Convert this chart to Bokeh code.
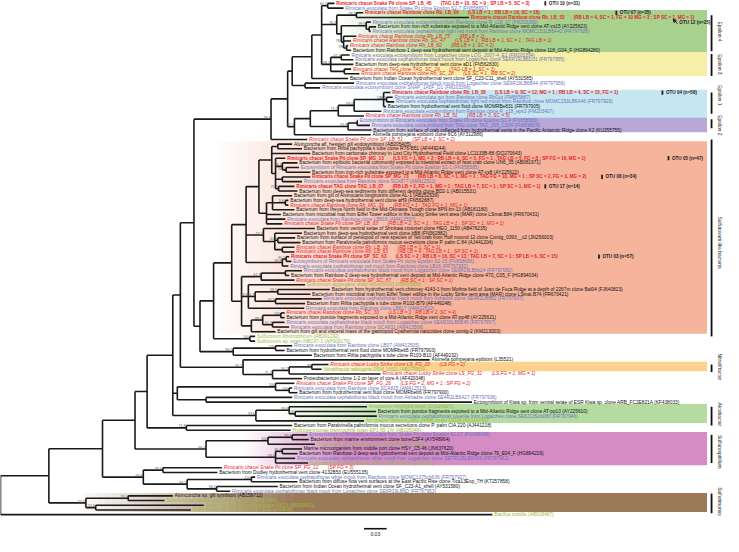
from bokeh.plotting import figure
from bokeh.models import Range1d, ColumnDataSource, Arrow, NormalHead
from bokeh.embed import file_html
from bokeh.resources import INLINE
from bokeh.core.properties import value
import math

# ---------------- data ----------------
leaf_labels = [
 "Rimicaris chacei Snake Pit clone SP_LB_45\u2003\u2003(TAG LB = 10, SC = 9 ; SP LB = 5, SC = 3)",
 "Rimicaris exoculata from Snake Pit clone Epsilon S2-7 (FN658697)",
 "Rimicaris chacei Rainbow clone Rb_LB_09\u2003\u2003(LS LB = 1 ; RB LB = 16, SC = 18)",
 "Rimicaris chacei  Rainbow clone Rb_LB_53\u2003\u2003(RB LB = 4, SC = 1, FG = 10 MG = 3 ; SP SC = 1, MG = 1)",
 "Rimicaris exoculata ectosymbiont from Rainbow clone R_c18_07 (FM203380)",
 "Bacterium from iron-rich substrate exposed to a Mid-Atlantic Ridge vent clone AT-cs15 (AY225623)",
 "Rimicaris exoculata cephalothorax light red moult from Rainbow clone MOMC153LB6A42 (FR797928)",
 "Rimicaris chacei Rainbow clone Rb_LB_75\u2003\u2003(RB LB = 2)",
 "Rimicaris chacei Rainbow clone Rb_SC_47\u2003\u2003(LS LB = 1 ; RB LB = 1, SC = 1 ; TAG LB = 1)",
 "Rimicaris chacei Rainbow clone Rb_LB_60\u2003\u2003(RB LB = 1; SC = 2)",
 "Bacterium from Rainbow-1 deep-sea hydrothermal vent deposit at Mid-Atlantic Ridge clone 118_G04_F (HG894280)",
 "Rimicaris exoculata ectosymbiont from Logatchev clone LOG_2007-4_E1 (FM203394)",
 "Rimicaris exoculata cephalothorax black moult from Logatchev clone SE6R19LB6D31 (FR797955)",
 "Bacterium from deep-sea hydrothermal vent clone aD1 (FN562830)",
 "Rimicaris chacei TAG clone TAG_SC_29\u2003\u2003(TAG LB = 1, SC = 3)",
 "Rimicaris chacei Rainbow clone Rb_SC_28\u2003\u2003(LS SC = 1 ; RB SC = 2)",
 "Bacterium from Indian Ocean hydrothermal vent clone SF_C23-C11_shell (AY531585)",
 "Rimicaris exoculata cephalothorax black moult from Logatchev clone SE6R19LB6B44 (FR797956)",
 "Rimicaris exoculata ectosymbiont clone SNAP_1A5F_D1 (FM203396)",
 "Rimicaris chacei Rainbow clone Rb_LB_38\u2003\u2003(LS LB = 9, SC = 12, MG = 1 ; RB LB = 4, SC = 15, FG = 1)",
 "Rimicaris exoculata gut from Rainbow clone RbGut (FM865887)",
 "Rimicaris exoculata cephalothorax light red moult from Rainbow clone MOMC153LB6A46 (FR797929)",
 "Bacterium from hydrothermal vent fluid clone MOMRBe831 (FR797905)",
 "Rimicaris exoculata ectosymbiont from Rainbow clone R_c18_eps3 (FM203407)",
 "Rimicaris chacei Rainbow clone Rb_LB_51\u2003\u2003(RB LB = 3, SC = 5)",
 "Ectosymbiont of Rimicaris exoculata from Snake Pit clone Epsilon S1-4 (FN658583)",
 "Rimicaris exoculata ectosymbiont from TAG clone TAG_265_C004 (FN658829)",
 "Bacterium from surface of crab collected from hydrothermal vents in the Pacific Antarctic Ridge clone K2 (KU255755)",
 "Alvinella pompejana epibiont clone 6C6 (AY312986)",
 "Rimicaris chacei Snake Pit clone SP_LB_51\u2003\u2003(SP LB = 1, SC = 2)",
 "Alvinconcha aff. hessleri gill endosymbiont (AB205405)",
 "Bacterium from Riftia pachyptila s tube clone R76-B51 (AF449244)",
 "Bacterium from carbonate chimney in Lost City Hydrothermal Field clone LC1133B-88 (DQ270643)",
 "Rimicaris chacei Snake Pit clone SP_MG_13\u2003\u2003(LS FG = 1, MG = 2 ; RB LB = 9, SC = 5, FG = 1 ; TAG LB = 5, FG = 8 ; SP FG = 16, MG = 1)",
 "Bacterium from epibiotic bacterial community exposed to intestinal extract of host crab clone UN6_35 (AB081971)",
 "Ectosymbiont of Rimicaris exoculata from Snake Pit clone Epsilon S1-1 (FN658585)",
 "Bacterium from iron-rich substrate exposed to a Mid-Atlantic Ridge vent clone AT-cs8 (AY225622)",
 "Rimicaris chacei Snake Pit clone SP_MG_73\u2003\u2003(RB LB = 8, SC = 1, MG = 1 ; TAG FG = 10, MG = 1 ; SP SC = 2, FG = 3, MG = 2)",
 "Rimicaris exoculata from Rainbow clone SCA877 (AM412511)",
 "Rimicaris chacei TAG clone TAG_LB_07\u2003\u2003(RB LB = 2, FG = 1, MG = 1 ; TAG LB = 7, SC = 1 ; SP SC = 1, MG = 1)",
 "Bacterium from deep-sea sediments from different depths clone BD2-1 (AB015531)",
 "Bacterium from gill of Alvinocaris longirostris clone AL-1 (AB252539)",
 "Bacterium from deep-sea hydrothermal vent clone aH9 (FN562887)",
 "Rimicaris chacei Rainbow clone Rb_MG_29\u2003\u2003(RB FG = 1 ; TAG FG = 1, MG = 1)",
 "Bacterium from Iheya North field in the Mid-Okinawa Trough clone 8PN-bn-13 (AB181180)",
 "Bacterium from microbial mat from Eiffel Tower edifice in the Lucky Strike vent area (MAR) clone LSmat.B84 (FR670431)",
 "Rimicaris exoculata from Rainbow clone LB816 (AM412507)",
 "Rimicaris chacei Snake Pit clone SP_LB_63\u2003\u2003(RB LB = 2, SC = 1 ; TAG LB = 1 ; SP SC = 1, MG = 1)",
 "Bacterium from ventral setae of Shinkaia crosnieri clone HEO_1150 (AB476235)",
 "Bacterium from deep-sea hydrothermal vent clone bB8 (FN562882)",
 "Bacterium from surface of pereopod of new species of Yeti crab from Hoff mound 12 clone Contig_0393__c2 (JN256003)",
 "Bacterium from Paralvinella palmiformis mucus secretions clone P. palm C 84 (AJ441204)",
 "Rimicaris chacei Rainbow clone Rb_LB_16\u2003\u2003(RB LB = 1, SC = 1)",
 "Rimicaris chacei Rainbow clone Rb_LB_63\u2003\u2003(RB LB = 4 ; TAG LB = 1 ; SP SC = 1)",
 "Rimicaris chacei Snake Pit clone SP_SC_63\u2003\u2003(LS SC = 2 ; RB LB = 16, SC = 13 ; TAG LB = 7, SC = 1 ; SP LB = 6, SC = 15)",
 "Ectosymbiont of Rimicaris exoculata from Snake Pit clone Epsilon S2-15 (FN658696)",
 "Rimicaris exoculata cephalothorax red moult from Rainbow clone LB16 (FR797932)",
 "Rimicaris exoculata cephalothorax black moult from Logatchev clone SE6R19LB6b24 (FR797952)",
 "Bacterium from Rainbow-2 deep-sea hydrothermal vent deposit at Mid-Atlantic Ridge clone 470_C05_F (HG894034)",
 "Rimicaris chacei Snake Pit clone SP_SC_87\u2003\u2003(RB SC = 1 ; SP SC = 1)",
 "Sulfurovum aggregans strain Monchim33 (AB889588)",
 "Bacterium from hydrothermal vent chimney 4143-1 from Mothra field of Juan de Fuca Ridge at a depth of 2267m clone Bal04 (FJ640823)",
 "Bacterium from microbial mat from Eiffel Tower edifice in the Lucky Strike vent area (MAR) clone LSmat.B74 (FR670421)",
 "Rimicaris exoculata cephalothorax black moult from Ashadze clone SE4R2LB6B2 (FR797937)",
 "Bacterium from Riftia pachyptila s tube clone R103-B79 (AF449248)",
 "Rimicaris exoculata from Rainbow clone LB817 (AM412510)",
 "Rimicaris chacei Rainbow clone Rb_SC_30\u2003\u2003(LS LB = 1 ; RB LB = 2, SC = 4)",
 "Bacterium from pumice fragments exposed to a Mid-Atlantic Ridge vent clone AT-pp48 (AY225621)",
 "Rimicaris exoculata cephalothorax black moult from Logatchev clone SE6R19LB6B45 (FR797957)",
 "Rimicaris exoculata from Rainbow clone SCA831 (AM412508)",
 "Bacterium from gill and visceral mass of the gastropod Cyathermia naticoides clone contig-2 (KM213003)",
 "Sulfurovum lithotrophicum (AB091292)",
 "Sulfurovum sp. strain NBC37-1 (AP009179)",
 "Rimicaris exoculata from Rainbow clone LB07 (AM412505)",
 "Bacterium from hydrothermal vent fluid clone MOMRbeb5 (FR797903)",
 "Bacterium from Riftia pachyptila s tube clone R103-B10 (AF449232)",
 "Alvinella pompejana epibiont (L35521)",
 "Rimicaris chacei Lucky Strike clone LS_FG_20\u2003\u2003(LS FG = 2)",
 "Nitratifractor salsuginis DSM 16511 (AB175500)",
 "Rimicaris chacei Lucky Strike clone LS_FG_32\u2003\u2003(LS FG = 1, MG = 1)",
 "Proteobacterium clone 1-2 on layer of core A (AF420348)",
 "Rimicaris chacei Snake Pit clone SP_FG_26\u2003\u2003(LS FG = 2, MG = 1 ; SP FG = 2)",
 "Rimicaris exoculata from Rainbow clone SCA815 (AM412513)",
 "Bacterium from hydrothermal vent fluid clone MOMRbeb6 (FR797900)",
 "Rimicaris exoculata cephalothorax black moult from Ashadze clone SE4R2LB6A27 (FR797936)",
 "Ectosymbiont of Kiwa sp. from ventral setae of ESR Kiwa sp. clone ARB_FC2E821A (KF438033)",
 "Arcobacter nitrofigilis strain CI (L14627)",
 "Bacterium from pumice fragments exposed to a Mid-Atlantic Ridge vent clone AT-pp13 (AY225610)",
 "Rimicaris exoculata cephalothorax juvenile from Logatchev clone SE6J13Scb080 (FR797946)",
 "Arcobacter thereius LMG 24486 strain 16339 (AY314753)",
 "Bacterium from Paralvinella palmiformis mucus secretions clone P. palm CIA 220 (AJ441218)",
 "Hydrogenimonas thermophila strain EP1-55-1% (AB105048)",
 "Ectosymbiont of Rimicaris exoculata from Snake Pit clone Epsilon S1-27 (FN658698)",
 "Bacterium from marine environment clone boneC3F4 (AY548964)",
 "Sulfurospirillum arcachonense strain F1F6 (Y11561)",
 "Marine microorganism from middle port clone HSY_C5-46 (JN637620)",
 "Bacterium from Rainbow-3 deep-sea hydrothermal vent deposit at Mid-Atlantic Ridge clone 79_E04_F (HG894219)",
 "Rimicaris exoculata cephalothorax white moult from Logatchev clone SE7R125LB6A53 (FR797962)",
 "Sulfurospirillum multivorans DSM 12446 strain K (X82931)",
 "Rimicaris chacei Snake Pit clone SP_FG_12\u2003\u2003(SP FG = 3)",
 "Bacterium from Dudley hydrothermal vent clone 4132B53 (EU555135)",
 "Rimicaris exoculata cephalothorax white moult from Rainbow clone MOMC1375cb636 (FR797927)",
 "Bacterium from diffuse flow vent surfaces at the East Pacific Rise clone Tica13Exp_7H (KT257858)",
 "Bacterium from Indian Ocean hydrothermal vent clone SF_C23-A1_shell (AY531580)",
 "Rimicaris exoculata cephalothorax black moult from Logatchev clone SE6R19LB6D (FR797953)",
 "Alvinconcha sp. gill symbiont (AB159712)",
 "Sulfurimonas paralvinellae strain GO25 (AB252048)",
 "Sulfurimonas autotrophica strain OK10 (AB088431)",
 "Sulfurimonas denitrificans DSM 1251 (L40808)",
 "Bacillus subtilis (AB018487)",
]

leaf_kind = (
 "rb b rb rb b k b r r r k b b k r r k b b "
 "rb b b k b r b b k k r "
 "k k k rb k b k rb b rb k k k r k k b r k k k k r r rb b "
 "b b k r g k k b k b r k b b k g g b k k k "
 "r g r k r b k b k g k b g k g "
 "b k g k k b g r k b k k b k g g g g"
).split()

# tip distance from root (substitutions / site)
leaf_depth = [
 0.442, 0.454, 0.480, 0.620, 0.490, 0.497, 0.490, 0.471, 0.464, 0.460,
 0.464, 0.462, 0.467, 0.467, 0.464, 0.475, 0.460, 0.468, 0.423, 0.516,
 0.519, 0.521, 0.510, 0.504, 0.481, 0.473, 0.489, 0.491, 0.490, 0.406,
 0.386, 0.399, 0.410, 0.377, 0.393, 0.395, 0.410, 0.410, 0.399, 0.389,
 0.393, 0.386, 0.381, 0.381, 0.389, 0.371, 0.377, 0.373, 0.416, 0.399,
 0.390, 0.397, 0.389, 0.389, 0.382, 0.385, 0.381, 0.399, 0.382, 0.389,
 0.403, 0.436, 0.410, 0.425, 0.403, 0.402, 0.376, 0.376, 0.376, 0.382,
 0.364, 0.337, 0.337, 0.386, 0.376, 0.412, 0.568, 0.434, 0.425, 0.503,
 0.399, 0.389, 0.386, 0.393, 0.386, 0.624, 0.485, 0.497, 0.498, 0.481,
 0.386, 0.384, 0.406, 0.408, 0.416, 0.399, 0.393, 0.390, 0.407, 0.293,
 0.287, 0.337, 0.393, 0.367, 0.304, 0.228, 0.217, 0.269, 0.252, 0.651,
]

def N(depth, bs, *kids):
    return ("node", depth, bs, kids)

EU = N(0.386, "",
       N(0.412, "",
         N(0.425, "",
           N(0.433, "60.2", 0, 1),
           N(0.445, "76.3",
             N(0.471, "78.2", 2, 3),
             N(0.451, "",
               N(0.484, "99.9", 4, N(0.488, "", 5, 6)),
               N(0.454, "78.2", 7, 8, N(0.458, "99.8", 9, 10)))),
           N(0.437, "98.2",
             N(0.451, "67.4", 11, 12),
             13,
             N(0.455, "", 14, 15))),
         16),
       N(0.403, "", 17, 18))

E12 = N(0.389, "92.0",
        N(0.410, "",
          N(0.447, "72.2",
            N(0.468, "93.6",
              N(0.507, "100", 19, N(0.511, "100", 20, 21), 22),
              23),
            24),
          N(0.460, "91.8", N(0.472, "", 25, 26), 27)),
        28)

N277 = N(0.358, "78.3", N(0.380, "", EU, E12), 29)

X266 = N(0.342, "",
         N(0.359, "",
           N(0.367, "", 30, 31),
           32,
           N(0.364, "",
             33,
             N(0.373, "58.1", 34, N(0.378, "50.0", 35, 36)),
             N(0.373, "", 37, 38),
             N(0.368, "71.5", 39, 40))),
         N(0.352, "",
           N(0.360, "", 41, N(0.377, "100", 42, 43), 44),
           45, 46, 47))

X253 = N(0.325, "",
         X266,
         N(0.348, "52.3",
           48,
           N(0.363, "",
             49,
             N(0.367, "41.8", 50, 51),
             N(0.373, "", 52, 53))),
         N(0.373, "99.9", N(0.378, "95.5", 54, 55), 56))

X248 = N(0.319, "",
         N(0.345, "61.3", N(0.377, "", 57, 58), 59),
         N(0.328, "63.6",
           60,
           N(0.337, "64.1",
             N(0.367, "58.5", 61, 62),
             N(0.364, "47.5", 63, 64)),
           65),
         N(0.332, "",
           N(0.347, "88.7",
             N(0.371, "100", 66, 67),
             N(0.360, "61.7", 68, 69)),
           70))

SULF = N(0.264, "",
         N(0.282, "",
           N(0.306, "", X253, X248),
           N(0.330, "100", 71, 72)),
         N(0.308, "84.7", N(0.364, "100", 73, 74), 75))

NITRA = N(0.321, "95.1",
          76,
          N(0.360, "71.2",
            N(0.382, "91.2", N(0.412, "88", 77, 78), 79),
            80))

NB = N(0.234, "",
       N(0.364, "100", 81, N(0.382, "100", 82, 83)),
       N(0.272, "", 84, 85))

ARC = N(0.338, "93.6",
        N(0.382, "63.6", 86, N(0.390, "100", 87, 88)),
        89)

SPIR = N(0.272, "96.5",
         N(0.354, "100", N(0.386, "95.8", 92, 93), 94),
         N(0.364, "58.0", N(0.373, "81.9", 95, 96), 97, 98))

tree = N(0.0, "",
         N(0.064, "",
           N(0.135, "",
             N(0.178, "",
               N(0.194, "",
                 N(0.228, "",
                   N(0.238, "",
                     N(0.256, "", N277, SULF),
                     NITRA),
                   NB,
                   ARC),
                 N(0.246, "71.8", 90, 91)),
               SPIR),
             N(0.189, "66.8",
               N(0.215, "85.6", 99, 100),
               N(0.247, "84.2",
                 N(0.332, "100", 101, 102),
                 N(0.286, "94.1", 103, 104)))),
           N(0.113, "55.5",
             N(0.169, "70.7", 105, 106),
             N(0.126, "52.6", 107, 108))),
         109)

# coloured clade boxes
box_names = ["Epsilon 4", "Epsilon 3", "Epsilon 1", "Epsilon 2", "Sulfurovum like bacteria",
             "Nitratifractor", "Arcobacter", "Sulfurospirillum", "Sulfurimonas"]
box_row0 = [2, 11, 19, 25, 30, 77, 86, 92, 105]
box_row1 = [10, 15, 24, 27, 70, 78, 89, 98, 108]
box_fade0 = [0.445, 0.445, 0.464, 0.451, 0.282, 0.412, 0.360, 0.321, 0.100]
box_fade1 = [0.594, 0.594, 0.607, 0.581, 0.555, 0.542, 0.542, 0.451, 0.386]
box_color = ["#a9d18e", "#f8efa6", "#c6e7f0", "#b8a8d8", "#f7b49c",
             "#fbd38d", "#b4dba0", "#d58cc4", "#9a7a57"]
box_right = 0.935

# right-hand brackets and clade names
brk_row0 = [2.5, 10.8, 19.0, 24.7, 29.0, 77.0, 86.0, 92.0, 104.5]
brk_row1 = [10.2, 15.5, 23.5, 26.6, 71.0, 78.6, 90.0, 98.0, 108.7]
brk_label_row = [6.0, 13.0, 19.6, 26.0, 51.0, 77.5, 87.6, 95.6, 106.2]

# OTU annotations
otu_text = ["OTU 10 (n=31)", "OTU 07 (n=35)", "OTU 04 (n=58)", "OTU 05 (n=47)",
            "OTU 08 (n=34)", "OTU 17 (n=14)", "OTU 03 (n=57)"]
otu_row = [0, 2, 19, 33, 37, 39, 54]
otu_depth = [0.721, 0.815, 0.876, 0.884, 0.796, 0.721, 0.792]
otu12_text = "OTU 12 (n=25)"
otu12_row = 4.1
otu12_depth = 0.897

scale_len = 0.03
scale_start = 0.481
scale_row = 112.0

# ---------------- layout ----------------
hx0, hx1, hy = [], [], []
vx, vy0, vy1 = [], [], []
bsx, bsy, bst = [], [], []

def layout(node):
    if isinstance(node, int):
        return leaf_depth[node], float(node)
    _, d, bs, kids = node
    ys = []
    for k in kids:
        kd, ky = layout(k)
        hx0.append(d); hx1.append(kd); hy.append(ky)
        ys.append(ky)
    vx.append(d); vy0.append(min(ys)); vy1.append(max(ys))
    y = (ys[0] + ys[-1]) / 2.0
    if bs:
        bsx.append(d); bsy.append(y); bst.append(bs)
    return d, y

layout(tree)

W, H = 723, 536
p = figure(width=W, height=H, x_range=Range1d(0, 0.9568), y_range=Range1d(113.66, -0.621),
           output_backend="svg", toolbar_location=None, min_border=0,
           min_border_left=0, min_border_right=0, min_border_top=0, min_border_bottom=0)
p.axis.visible = False
p.grid.visible = False
p.outline_line_color = None
p.background_fill_color = "white"

def hex2rgb(h):
    h = h.lstrip("#")
    return tuple(int(h[i:i + 2], 16) for i in (0, 2, 4))

ql, qr, qt, qb, qc = [], [], [], [], []
NS = 30
for r0, r1, f0, f1, col in zip(box_row0, box_row1, box_fade0, box_fade1, box_color):
    top, bot = r0 - 0.6, r1 + 0.45
    rgb = hex2rgb(col)
    for s in range(NS):
        a = f0 + (f1 - f0) * s / NS
        b = f0 + (f1 - f0) * (s + 1) / NS
        t = (s + 0.5) / NS
        c = tuple(int(round(255 + (v - 255) * t)) for v in rgb)
        ql.append(a); qr.append(b + 0.0005); qt.append(top); qb.append(bot)
        qc.append("#%02x%02x%02x" % c)
    ql.append(f1); qr.append(box_right); qt.append(top); qb.append(bot); qc.append(col)
p.quad(left=ql, right=qr, top=qt, bottom=qb, fill_color=qc, line_color=None)

# tree branches
p.segment(x0=hx0, x1=hx1, y0=hy, y1=hy, line_color="#1a1a1a", line_width=1.6)
p.segment(x0=vx, x1=vx, y0=vy0, y1=vy1, line_color="#1a1a1a", line_width=1.6)

# bootstrap values
p.text(x=bsx, y=bsy, text=bst, text_font=value("Liberation Sans"), text_font_size="3.6px",
       text_color="#555555", text_align="right", text_baseline="bottom", x_offset=-0.8, y_offset=-0.4)

# leaf labels
kind_color = {"r": "#e4232a", "rb": "#e4232a", "b": "#6a72c0", "g": "#98ba3a", "k": "#111111"}
kind_style = {"r": "italic", "rb": "bold", "b": "normal", "g": "normal", "k": "normal"}
kind_size = {"r": "4.8px", "rb": "4.6px", "b": "4.8px", "g": "4.8px", "k": "4.8px"}
for kd in ["k", "b", "g", "r", "rb"]:
    idx = [i for i, k in enumerate(leaf_kind) if k == kd]
    src = ColumnDataSource(dict(x=[leaf_depth[i] for i in idx], y=[float(i) for i in idx],
                                t=[leaf_labels[i] for i in idx]))
    p.text(x="x", y="y", text="t", source=src, text_font=value("Liberation Sans"),
           text_font_size=kind_size[kd], text_font_style=kind_style[kd],
           text_color=kind_color[kd], text_baseline="middle", x_offset=1.8)

# OTU annotations
p.segment(x0=otu_depth, x1=otu_depth, y0=[r - 0.45 for r in otu_row], y1=[r + 0.45 for r in otu_row],
          line_color="#222222", line_width=1.8)
p.text(x=otu_depth, y=otu_row, text=otu_text, text_font=value("Liberation Sans"), text_font_size="4.6px",
       text_font_style="bold", text_color="#222222", text_baseline="middle", x_offset=3.5)
p.text(x=[otu12_depth], y=[otu12_row], text=[otu12_text], text_font=value("Liberation Sans"),
       text_font_size="4.6px", text_font_style="bold", text_color="#222222", text_baseline="middle", x_offset=1)
p.add_layout(Arrow(end=NormalHead(size=3, fill_color="#222222", line_color="#222222"),
                   x_start=otu12_depth - 0.001, y_start=otu12_row + 0.2,
                   x_end=otu12_depth - 0.007, y_end=otu12_row - 0.7, line_width=1, line_color="#222222"))

# brackets + clade names
bx = [0.941] * len(brk_row0)
p.segment(x0=bx, x1=bx, y0=brk_row0, y1=brk_row1, line_color="#111111", line_width=1.8)
p.text(x=[0.9512] * len(box_names), y=brk_label_row, text=box_names, angle=-math.pi / 2,
       text_font=value("Liberation Sans"), text_font_size="4.9px", text_color="#222222",
       text_align="center", text_baseline="middle")

# scale bar
p.segment(x0=[scale_start], x1=[scale_start + scale_len], y0=[scale_row], y1=[scale_row],
          line_color="#111111", line_width=1.6)
p.text(x=[scale_start + scale_len / 2], y=[scale_row + 1.2], text=["%.2f" % scale_len],
       text_font=value("Liberation Sans"), text_font_size="5px", text_color="#222222",
       text_align="center", text_baseline="middle")

open("out.html", "w").write(file_html(p, INLINE))
